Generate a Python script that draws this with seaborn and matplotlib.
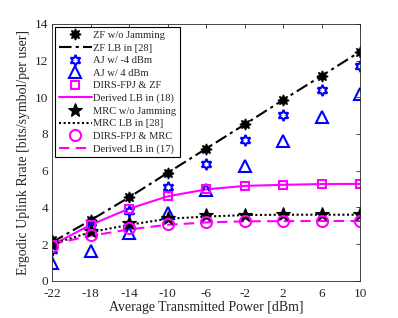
import matplotlib
matplotlib.use("Agg")
import matplotlib.pyplot as plt
import seaborn as sns
import numpy as np

power_dbm = [-22, -18, -14, -10, -6, -2, 2, 6, 10]
zf_wo_jam = [2.2, 3.3, 4.55, 5.88, 7.2, 8.52, 9.86, 11.17, 12.49]
zf_lb = [2.1, 3.3, 4.55, 5.88, 7.2, 8.52, 9.86, 11.17, 12.49]
aj_m4 = [1.7, 2.95, 3.78, 5.1, 6.38, 7.68, 9.03, 10.37, 11.71]
aj_p4 = [0.96, 1.65, 2.6, 3.69, 4.96, 6.24, 7.59, 8.91, 10.2]
dirs_zf = [1.95, 3.05, 3.93, 4.63, 4.98, 5.17, 5.23, 5.27, 5.28]
derived_18 = [1.95, 3.05, 3.93, 4.6, 4.98, 5.17, 5.23, 5.27, 5.28]
mrc_wo_jam = [2.0, 2.7, 3.14, 3.42, 3.57, 3.61, 3.62, 3.62, 3.62]
mrc_lb = [2.0, 2.65, 3.05, 3.38, 3.5, 3.58, 3.6, 3.6, 3.6]
dirs_mrc = [1.9, 2.5, 2.87, 3.1, 3.2, 3.24, 3.25, 3.26, 3.26]
derived_17 = [2.0, 2.45, 2.8, 3.05, 3.18, 3.24, 3.25, 3.26, 3.26]

sns.set_theme(style="white")
plt.rcParams['font.family'] = ['Liberation Serif', 'DejaVu Serif']
plt.rcParams['mathtext.fontset'] = 'stix'

fig = plt.figure(figsize=(3.98, 3.18), dpi=100)
ax = fig.add_axes([0.131, 0.117, 0.774, 0.808])

x = np.array(power_dbm)
H = {}
# lines
H['zf_lb'] = sns.lineplot(x=x, y=zf_lb, ax=ax, color='black', linestyle=(0, (6, 2, 1.5, 2)), lw=1.5, label='ZF LB in [28]').get_lines()[-1]
H['d18'] = sns.lineplot(x=x, y=derived_18, ax=ax, color='#ff00ff', linestyle='-', lw=1.5, label='Derived LB in (18)').get_lines()[-1]
H['mrc_lb'] = sns.lineplot(x=x, y=mrc_lb, ax=ax, color='black', linestyle=(0, (1, 1.2)), lw=1.5, label='MRC LB in [28]').get_lines()[-1]
H['d17'] = sns.lineplot(x=x, y=derived_17, ax=ax, color='#ff00ff', linestyle=(0, (5, 3)), lw=1.5, label='Derived LB in (17)').get_lines()[-1]

# markers
def mk(y, marker, color, filled, size, label, mew=1.5):
    sns.lineplot(x=x, y=y, ax=ax, linestyle='', marker=marker, markersize=size,
                 markerfacecolor=(color if filled else 'none'), markeredgecolor=color,
                 markeredgewidth=mew, color=color, label=label)
    return ax.get_lines()[-1]

H['zf'] = mk(zf_wo_jam, (8, 1, 0), 'black', True, 8, 'ZF w/o Jamming', 1.0)
H['aj4m'] = mk(aj_m4, (6, 1, 0), 'blue', False, 8, 'AJ w/ -4 dBm')
H['aj4'] = mk(aj_p4, '^', 'blue', False, 8.5, 'AJ w/ 4 dBm')
H['dzf'] = mk(dirs_zf, 's', '#ff00ff', False, 6, 'DIRS-FPJ & ZF')
H['mrc'] = mk(mrc_wo_jam, '*', 'black', True, 10.5, 'MRC w/o Jamming', 0.8)
H['dmrc'] = mk(dirs_mrc, 'o', '#ff00ff', False, 8, 'DIRS-FPJ & MRC')

order = ['zf', 'zf_lb', 'aj4m', 'aj4', 'dzf', 'd18', 'mrc', 'mrc_lb', 'dmrc', 'd17']
handles = [H[k] for k in order]
labels = [h.get_label() for h in handles]
leg = ax.legend(handles, labels, loc='upper left', fontsize=7.6, frameon=True, fancybox=False,
                edgecolor='black', handlelength=3.1, handletextpad=0.15, borderpad=0.35,
                labelspacing=0.3, borderaxespad=0.3, framealpha=1)
leg.get_frame().set_linewidth(0.8)

ax.set_xlim(-22, 10)
ax.set_ylim(0, 14)
ax.set_xticks(power_dbm)
ax.set_xticklabels([str(v) for v in power_dbm])
ax.set_yticks(range(0, 15, 2))
ax.tick_params(direction='in', top=True, right=True, labelsize=9.5, length=3, width=0.6, colors='#262626', labelcolor='#262626')
ax.tick_params(axis='x', pad=5)
ax.tick_params(axis='y', pad=3)
for s in ax.spines.values():
    s.set_color('#262626')
    s.set_linewidth(0.6)
ax.set_xlabel('Average Transmitted Power [dBm]', fontsize=10, color='#262626', labelpad=1)
ax.set_ylabel('Ergodic Uplink Rrate [bits/symbol/per user]', fontsize=10, color='#262626', labelpad=3)

fig.savefig('out.png', dpi=100)
